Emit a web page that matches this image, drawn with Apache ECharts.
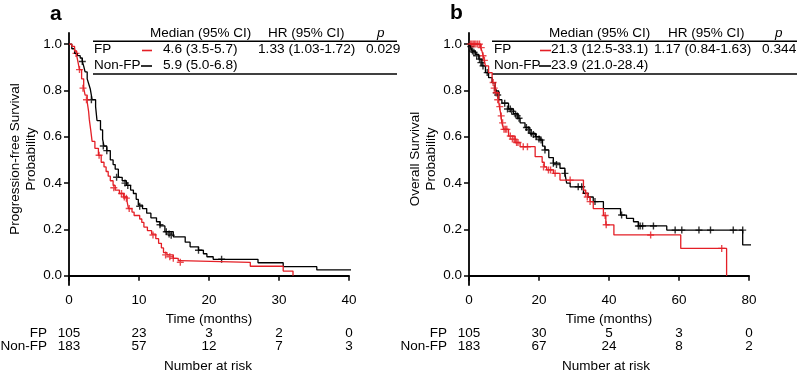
<!DOCTYPE html>
<html>
<head>
<meta charset="utf-8">
<script src="https://cdn.jsdelivr.net/npm/echarts@6/dist/echarts.min.js"></script>
<style>
  html, body { margin: 0; padding: 0; background: #fff; }
  #main { width: 798px; height: 375px; }
</style>
</head>
<body>
<div id="main"></div>
<script>
var FONT = 'Liberation Sans, Arial, sans-serif';
var RED = '#e41f26';

// panel a: progression-free survival, [months, probability]
var pfsFP = [[0,1],[0.4,0.99],[0.8,0.97],[1.1,0.95],[1.3,0.92],[1.5,0.89],[1.8,0.85],[2.1,0.81],[2.3,0.78],[2.6,0.75],[2.8,0.71],[2.9,0.675],[3.1,0.63],[3.3,0.58],[3.7,0.55],[4.2,0.52],[4.6,0.49],[5.0,0.47],[5.3,0.45],[5.6,0.43],[5.9,0.41],[6.3,0.39],[6.6,0.37],[7.2,0.355],[7.8,0.34],[8.3,0.32],[8.5,0.29],[9.0,0.275],[9.3,0.26],[10.1,0.245],[10.4,0.23],[10.7,0.21],[11.2,0.195],[11.8,0.18],[12.4,0.16],[12.8,0.14],[13.2,0.12],[13.5,0.10],[14.0,0.09],[14.9,0.075],[15.6,0.065],[15.9,0.058],[25.9,0.041],[30.6,0.02],[32,0]];
var pfsNonFP = [[0,1],[0.4,0.98],[0.8,0.96],[1.2,0.95],[1.6,0.94],[1.9,0.925],[2.1,0.905],[2.3,0.88],[2.6,0.85],[2.8,0.83],[3.05,0.805],[3.3,0.76],[3.8,0.73],[4.0,0.67],[4.5,0.63],[4.8,0.59],[5.0,0.56],[5.4,0.54],[5.9,0.50],[6.3,0.48],[6.6,0.46],[7.05,0.425],[7.6,0.41],[8.2,0.39],[8.8,0.37],[9.2,0.355],[9.6,0.33],[9.9,0.305],[10.5,0.29],[11.1,0.27],[11.7,0.25],[12.5,0.233],[13.0,0.215],[13.7,0.19],[14.9,0.168],[16.6,0.145],[17.3,0.125],[18.5,0.11],[19.2,0.095],[19.7,0.082],[20.6,0.071],[27,0.056],[30.6,0.039],[35.4,0.025],[43,0.025]];
var pfsFPCensor = [[1.0,0.96],[1.5,0.89],[2.0,0.81],[2.5,0.76],[4.3,0.52],[6.4,0.38],[7.5,0.355],[7.9,0.34],[8.2,0.335],[8.6,0.29],[12.0,0.176],[13.8,0.09],[14.4,0.082],[14.9,0.075],[15.9,0.058]];
var pfsNonFPCensor = [[1.9,0.925],[3.2,0.76],[4.9,0.56],[5.4,0.54],[6.8,0.425],[8.0,0.40],[8.4,0.39],[10.1,0.30],[13.0,0.22],[13.9,0.19],[14.3,0.18],[14.6,0.175],[18.5,0.11],[21.8,0.071]];

// panel b: overall survival
var osFP = [[0,1],[3.3,0.985],[3.7,0.97],[4.2,0.94],[4.7,0.906],[5.6,0.877],[6.6,0.834],[7.5,0.79],[8.5,0.747],[9.0,0.704],[9.4,0.66],[9.9,0.632],[11.3,0.603],[13.2,0.575],[14.6,0.557],[18.9,0.514],[20.9,0.49],[21.5,0.47],[22.2,0.457],[24.1,0.442],[26.0,0.413],[32.7,0.37],[33.3,0.356],[33.9,0.34],[34.6,0.32],[35.5,0.29],[38.4,0.26],[39.1,0.22],[41.4,0.176],[60.5,0.118],[73.6,0]];
var osNonFP = [[0,1],[0.4,0.99],[0.9,0.97],[1.8,0.956],[2.8,0.935],[3.7,0.906],[4.7,0.877],[5.6,0.855],[6.6,0.834],[7.5,0.798],[8.5,0.76],[9.4,0.745],[11.3,0.72],[12.7,0.70],[14.0,0.68],[14.6,0.66],[16.0,0.64],[17.4,0.615],[19.0,0.60],[20.3,0.586],[21.0,0.56],[21.7,0.543],[22.8,0.51],[24.1,0.486],[26.0,0.464],[27.4,0.442],[27.9,0.40],[28.9,0.384],[32.7,0.356],[34.0,0.34],[35.5,0.32],[38.4,0.29],[43.3,0.262],[45.0,0.248],[47.0,0.233],[48.4,0.215],[56.5,0.197],[78.2,0.133],[86,0.133]];
var osFPCensor = [[0.4,1],[0.8,1],[1.2,1],[1.6,1],[2.0,1],[2.5,1],[3.0,1],[3.5,0.985],[4.0,0.95],[4.4,0.93],[6.9,0.834],[7.2,0.81],[7.8,0.79],[8.2,0.76],[8.8,0.73],[9.2,0.69],[9.6,0.66],[10.0,0.632],[10.4,0.632],[10.8,0.632],[11.8,0.603],[12.4,0.59],[12.9,0.59],[13.6,0.575],[14.0,0.575],[15.5,0.557],[16.7,0.557],[21.3,0.47],[22.7,0.457],[23.3,0.457],[24.6,0.442],[28.9,0.413],[33.3,0.356],[33.8,0.34],[34.6,0.32],[38.9,0.26],[39.2,0.22],[51.9,0.176],[72.2,0.118]];
var osNonFPCensor = [[0.5,0.99],[1.0,0.97],[1.4,0.965],[2.2,0.95],[3.0,0.935],[3.4,0.92],[4.0,0.906],[5.2,0.877],[7.8,0.79],[8.2,0.78],[10.2,0.745],[11.0,0.72],[11.8,0.72],[12.2,0.71],[13.3,0.697],[13.8,0.69],[14.3,0.68],[16.4,0.64],[17.0,0.63],[17.8,0.615],[18.4,0.61],[19.2,0.60],[20.0,0.59],[20.6,0.586],[21.7,0.543],[24.1,0.486],[25.0,0.48],[27.4,0.442],[31.2,0.384],[32.2,0.384],[36.0,0.32],[43.6,0.262],[48.4,0.215],[48.9,0.215],[49.6,0.215],[52.7,0.215],[58.9,0.197],[60.8,0.197],[65.7,0.197],[69.0,0.197],[75.5,0.197],[78.2,0.197]];

// number at risk
var riskTicksA = [0, 10, 20, 30, 40];
var riskA_FP = [105, 23, 3, 2, 0];
var riskA_NonFP = [183, 57, 12, 7, 3];
var riskTicksB = [0, 20, 40, 60, 80];
var riskB_FP = [105, 30, 5, 3, 0];
var riskB_NonFP = [183, 67, 24, 8, 2];

var yTicks = [0, 0.2, 0.4, 0.6, 0.8, 1.0];
var CROSS = 'path://M2.8,0H4.2V2.8H7V4.2H4.2V7H2.8V4.2H0V2.8H2.8Z';

var chart = echarts.init(document.getElementById('main'), null, { renderer: 'canvas' });

function mainX(grid, max, interval) {
  return {
    type: 'value', gridIndex: grid, min: 0, max: max, interval: interval,
    name: 'Time (months)', nameLocation: 'middle', nameGap: 25,
    nameTextStyle: { fontFamily: FONT, fontSize: 13.5, color: '#000' },
    axisLine: { lineStyle: { color: '#000', width: 1.8 } },
    axisTick: { length: 5, lineStyle: { color: '#000', width: 1.5 } },
    axisLabel: { margin: 8, fontFamily: FONT, fontSize: 13.5, color: '#000' },
    splitLine: { show: false }
  };
}
function riskX(grid, max, interval, offset, ticks, vals) {
  return {
    type: 'value', gridIndex: grid, min: 0, max: max, interval: interval,
    position: 'bottom', offset: offset,
    axisLine: { show: false }, axisTick: { show: false }, splitLine: { show: false },
    axisLabel: {
      margin: 0, fontFamily: FONT, fontSize: 13.5, color: '#000',
      formatter: function (v) { return vals[ticks.indexOf(v)]; }
    }
  };
}
function mainY(grid, name) {
  return {
    type: 'value', gridIndex: grid, min: -0.04, max: 1.048,
    name: name, nameLocation: 'middle', nameGap: 25,
    nameTextStyle: { fontFamily: FONT, fontSize: 13.5, color: '#000', lineHeight: 16 },
    axisLine: { show: true, lineStyle: { color: '#000', width: 1.8 } },
    axisTick: { show: true, length: 5, customValues: yTicks, lineStyle: { color: '#000', width: 1.5 } },
    axisLabel: {
      margin: 7, fontFamily: FONT, fontSize: 13.5, color: '#000', customValues: yTicks,
      formatter: function (v) { return v.toFixed(1); }
    },
    splitLine: { show: false }
  };
}
function curve(x, y, data, color) {
  return { type: 'line', xAxisIndex: x, yAxisIndex: y, data: data, step: 'end',
    showSymbol: false, clip: false, lineStyle: { color: color, width: 1.3 } };
}
function censor(x, y, data, color) {
  return { type: 'scatter', xAxisIndex: x, yAxisIndex: y, data: data, symbol: CROSS,
    symbolSize: 7, clip: false, itemStyle: { color: color } };
}

function txt(x, y, s, opts) {
  opts = opts || {};
  return {
    type: 'text', x: x, y: y, silent: true,
    style: {
      text: s, fill: '#000',
      font: (opts.font || '13.5px') + ' ' + FONT,
      align: opts.align || 'left', textAlign: opts.align || 'left',
      verticalAlign: 'middle', textVerticalAlign: 'middle'
    }
  };
}
function rule(x1, x2, y, color, w) {
  return { type: 'line', silent: true, shape: { x1: x1, y1: y, x2: x2, y2: y },
    style: { stroke: color || '#000', lineWidth: w || 1.5 } };
}

var NUM = { font: '13.7px' };
var graphics = [
  // panel a header table
  txt(50, 14, 'a', { font: 'bold 21px' }),
  txt(150, 33, 'Median (95% CI)'),
  txt(268, 33, 'HR (95% CI)'),
  txt(377, 33, 'p', { font: 'italic 13.5px' }),
  rule(93, 397, 41.3),
  txt(94, 49, 'FP'),
  rule(142, 152, 50.5, RED, 1.6),
  txt(163, 49, '4.6 (3.5-5.7)', NUM),
  txt(258, 49, '1.33 (1.03-1.72)', NUM),
  txt(366, 49, '0.029', NUM),
  txt(94, 65.5, 'Non-FP'),
  rule(141, 152, 66, '#000', 1.6),
  txt(163, 65.5, '5.9 (5.0-6.8)', NUM),
  rule(93, 397, 74),
  // panel a at risk
  txt(47, 333, 'FP', { align: 'right' }),
  txt(47, 346, 'Non-FP', { align: 'right' }),
  txt(208, 366, 'Number at risk', { align: 'center' }),

  // panel b header table
  txt(450, 13, 'b', { font: 'bold 21px' }),
  txt(549, 33, 'Median (95% CI)'),
  txt(668, 33, 'HR (95% CI)'),
  txt(775, 33, 'p', { font: 'italic 13.5px' }),
  rule(492, 797, 41.3),
  txt(494, 49, 'FP'),
  rule(540, 551, 50.5, RED, 1.6),
  txt(551, 49, '21.3 (12.5-33.1)', NUM),
  txt(654, 49, '1.17 (0.84-1.63)', NUM),
  txt(762, 49, '0.344', NUM),
  txt(494, 65.5, 'Non-FP'),
  rule(539, 551, 66, '#000', 1.6),
  txt(551, 65.5, '23.9 (21.0-28.4)', NUM),
  rule(492, 797, 74),
  // panel b at risk
  txt(447, 333, 'FP', { align: 'right' }),
  txt(447, 346, 'Non-FP', { align: 'right' }),
  txt(606, 366, 'Number at risk', { align: 'center' })
];

var option = {
  animation: false,
  backgroundColor: '#fff',
  grid: [
    { left: 69, width: 280, top: 33, height: 252 },
    { left: 469, width: 280, top: 33, height: 252 }
  ],
  xAxis: [
    mainX(0, 40, 10),
    riskX(0, 40, 10, 41, riskTicksA, riskA_FP),
    riskX(0, 40, 10, 54, riskTicksA, riskA_NonFP),
    mainX(1, 80, 20),
    riskX(1, 80, 20, 41, riskTicksB, riskB_FP),
    riskX(1, 80, 20, 54, riskTicksB, riskB_NonFP)
  ],
  yAxis: [
    mainY(0, 'Progression-free Survival\nProbability'),
    mainY(1, 'Overall Survival\nProbability')
  ],
  series: [
    curve(0, 0, pfsNonFP, '#000'),
    curve(0, 0, pfsFP, RED),
    censor(0, 0, pfsNonFPCensor, '#000'),
    censor(0, 0, pfsFPCensor, RED),
    curve(3, 1, osNonFP, '#000'),
    curve(3, 1, osFP, RED),
    censor(3, 1, osNonFPCensor, '#000'),
    censor(3, 1, osFPCensor, RED)
  ],
  graphic: graphics
};
chart.setOption(option);
</script>
</body>
</html>
